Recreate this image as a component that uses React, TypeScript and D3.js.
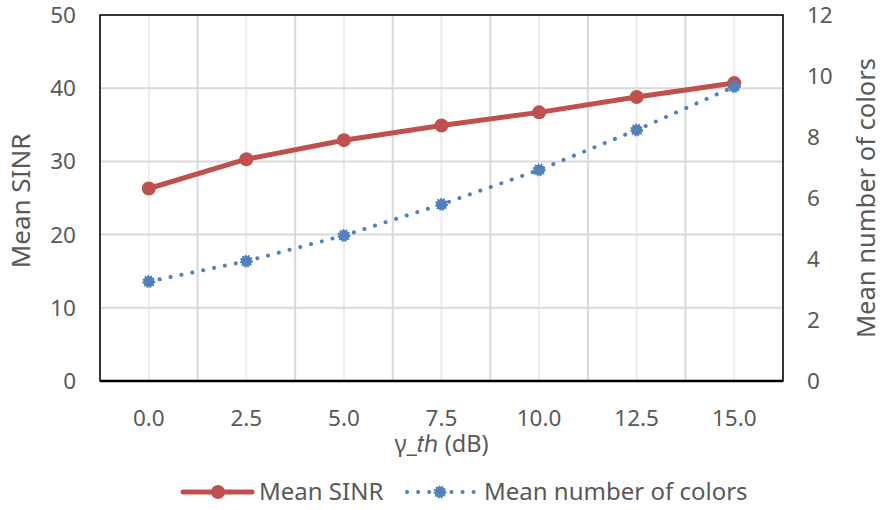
import React from "react";
import * as d3 from "d3";

const categories = ["0.0", "2.5", "5.0", "7.5", "10.0", "12.5", "15.0"];
const meanSINR = [26.3, 30.3, 32.9, 34.9, 36.7, 38.8, 40.7];
const meanColors = [3.26, 3.93, 4.77, 5.79, 6.92, 8.23, 9.65];
const leftTicks = [0, 10, 20, 30, 40, 50];
const rightTicks = [0, 2, 4, 6, 8, 10, 12];

const W = 883, H = 510;
const L = 100, R = 783, T = 15, B = 381;
const RED = "#C0504D", BLUE = "#4F81BD";
const FONT = "'Noto Sans', 'Open Sans', sans-serif";
const TXT = "#595959";

export default function App() {
  const x = d3.scaleBand<string>().domain(categories).range([L, R]);
  const cx = (c: string) => (x(c) as number) + x.bandwidth() / 2;
  const yL = d3.scaleLinear().domain([0, 50]).range([B, T]);
  const yR = d3.scaleLinear().domain([0, 12]).range([B, T]);
  const lineL = d3.line<number>().x((_, i) => cx(categories[i])).y((d) => yL(d));
  const lineR = d3.line<number>().x((_, i) => cx(categories[i])).y((d) => yR(d));
  const edges = categories.map((c) => x(c) as number).concat([R]);

  return (
    <svg width={W} height={H} style={{ position: "absolute", left: 0, top: 0 }}>
      <rect width={W} height={H} fill="#fff" />
      {/* grid */}
      {categories.map((c) => (
        <line key={"gc" + c} x1={cx(c)} x2={cx(c)} y1={T} y2={B} stroke="#ececec" strokeWidth={2} />
      ))}
      {edges.map((e, i) => (
        <line key={"ge" + i} x1={e} x2={e} y1={T} y2={B} stroke="#d9d9d9" strokeWidth={2} />
      ))}
      {leftTicks.map((t) => (
        <line key={"gh" + t} x1={L} x2={R} y1={yL(t)} y2={yL(t)} stroke="#d9d9d9" strokeWidth={2} />
      ))}
      <rect x={L} y={T} width={R - L} height={B - T} fill="none" stroke="#000" strokeWidth={1.5} />
      <line x1={L} x2={R} y1={B} y2={B} stroke="#000" strokeWidth={2.5} />
      {/* ticks */}
      {leftTicks.map((t) => (
        <text key={"lt" + t} x={76} y={yL(t) + 8} textAnchor="end" fontSize={22.5} fill={TXT} fontFamily={FONT}>
          {t}
        </text>
      ))}
      {rightTicks.map((t) => (
        <text key={"rt" + t} x={807} y={yR(t) + 8} textAnchor="start" fontSize={22.5} fill={TXT} fontFamily={FONT}>
          {t}
        </text>
      ))}
      {categories.map((c) => (
        <text key={"xt" + c} x={cx(c)} y={426} textAnchor="middle" fontSize={22.5} fill={TXT} fontFamily={FONT}>
          {c}
        </text>
      ))}
      <text transform={`translate(30,${(T + B) / 2 + 3}) rotate(-90)`} textAnchor="middle" fontSize={26} fill={TXT} fontFamily={FONT}>
        Mean SINR
      </text>
      <text transform={`translate(875,${(T + B) / 2}) rotate(-90)`} textAnchor="middle" fontSize={25.5} fill={TXT} fontFamily={FONT}>
        Mean number of colors
      </text>
      <text x={(L + R) / 2} y={452} textAnchor="middle" fontSize={23.5} fill={TXT} fontFamily={FONT}>
        γ_𝑡ℎ (dB)
      </text>
      {/* series */}
      <path d={lineL(meanSINR) || ""} fill="none" stroke={RED} strokeWidth={5} strokeLinejoin="round" />
      {meanSINR.map((v, i) => (
        <circle key={"rm" + i} cx={cx(categories[i])} cy={yL(v)} r={7} fill={RED} />
      ))}
      <path d={lineR(meanColors) || ""} fill="none" stroke={BLUE} strokeWidth={4} strokeDasharray="0.1 11" strokeLinecap="round" />
      {meanColors.map((v, i) => (
        <circle key={"bm" + i} cx={cx(categories[i])} cy={yR(v)} r={5.5} fill={BLUE} stroke={BLUE} strokeWidth={2} strokeDasharray="1.5 1.5" />
      ))}
      {/* legend */}
      <line x1={183} x2={252} y1={492} y2={492} stroke={RED} strokeWidth={5} strokeLinecap="round" />
      <circle cx={218} cy={492} r={7} fill={RED} />
      <text x={259} y={500} fontSize={24} fill={TXT} fontFamily={FONT}>Mean SINR</text>
      <line x1={407} x2={474} y1={492} y2={492} stroke={BLUE} strokeWidth={4} strokeDasharray="0.1 11" strokeLinecap="round" />
      <circle cx={440} cy={492} r={5.5} fill={BLUE} stroke={BLUE} strokeWidth={2} strokeDasharray="1.5 1.5" />
      <text x={484} y={500} fontSize={24} fill={TXT} fontFamily={FONT}>Mean number of colors</text>
    </svg>
  );
}
